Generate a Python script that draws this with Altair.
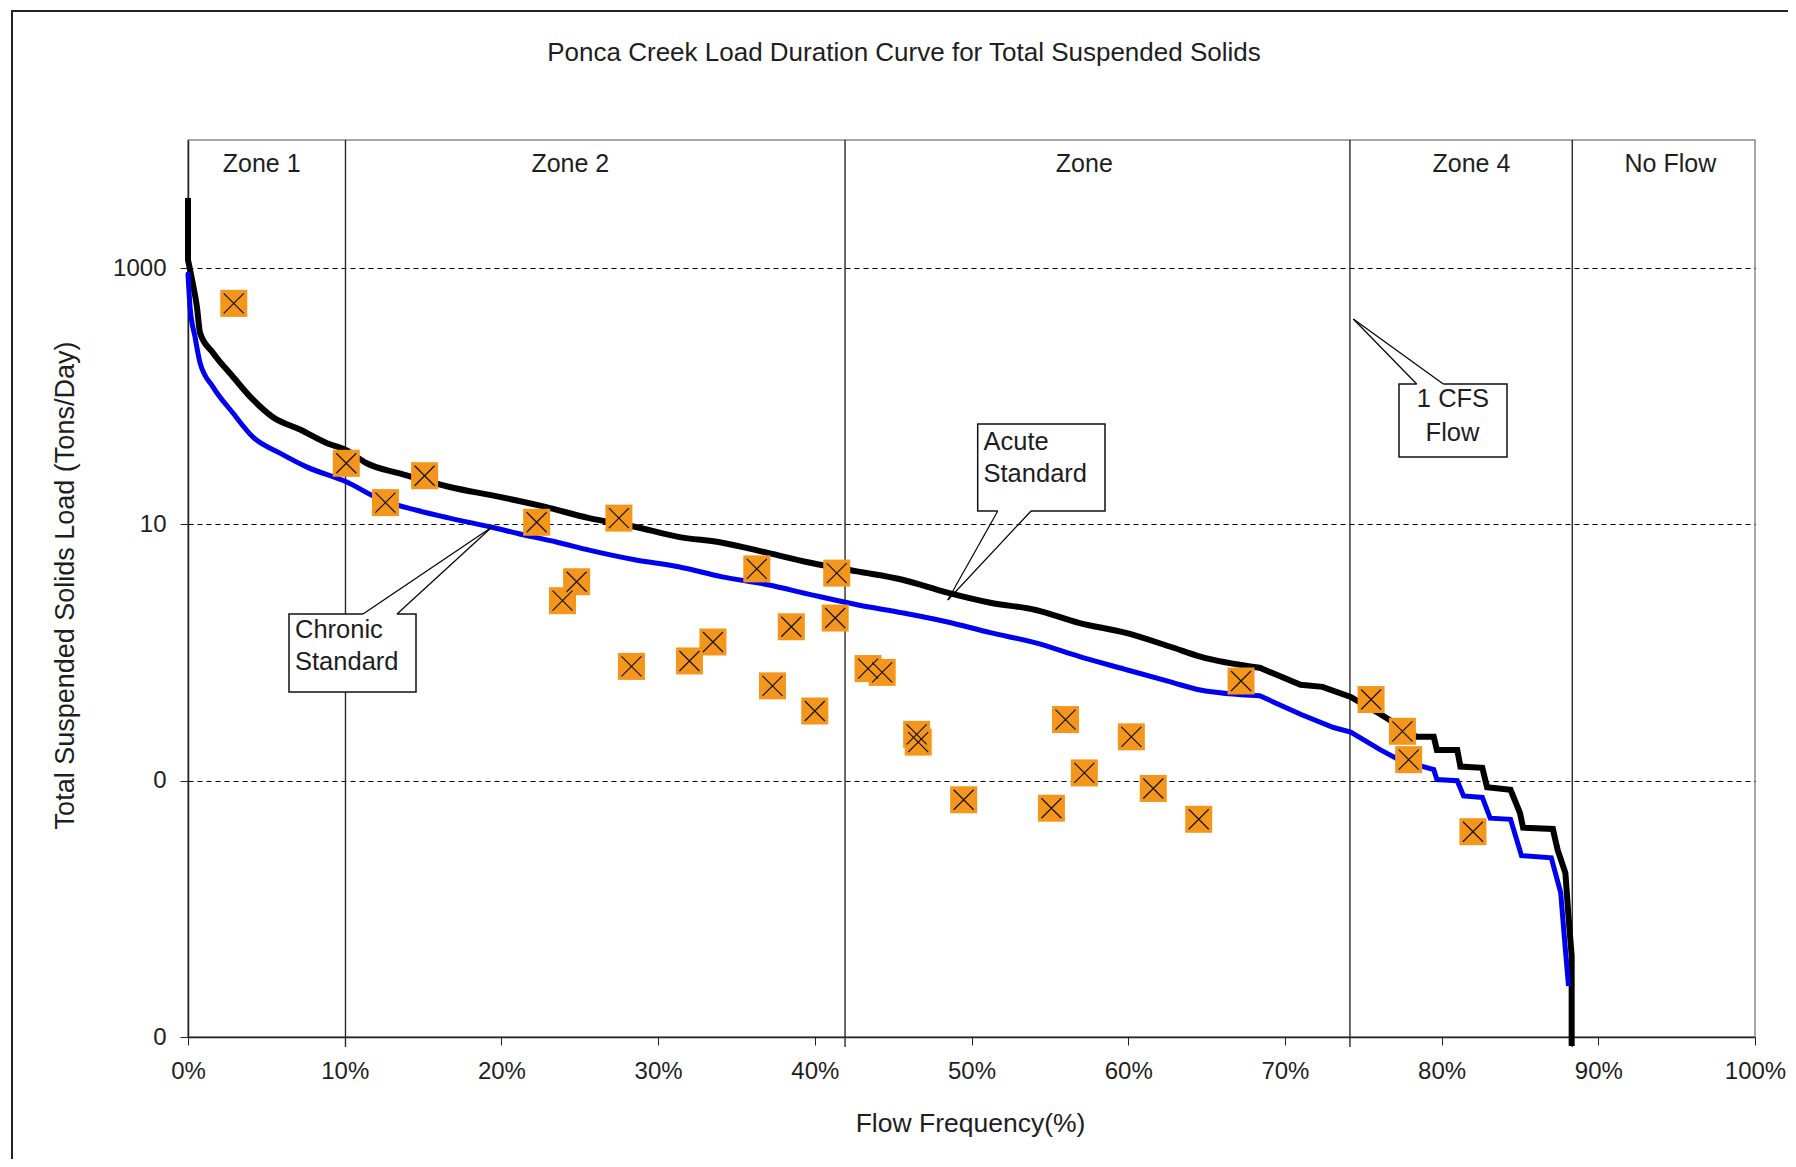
import altair as alt
import pandas as pd

# ---------------- data ----------------
acute_pct = [0, 0, 0.26, 0.57, 0.77, 1.6, 2.87, 4.15, 5.4, 7.15, 8.87, 10.1, 11.4, 13.5, 16.7,
             19.9, 22.8, 25.6, 28.5, 31.3, 34.1, 37.0, 39.8, 42.7, 45.6, 48.4, 51.2, 54.1, 56.9,
             59.8, 62.7, 64.6, 68.4, 71.0, 72.4, 74.2, 76.1, 78.4, 79.5, 79.7, 81.0, 81.2, 82.6,
             82.9, 84.4, 85.0, 85.2, 87.1, 87.4, 87.9, 88.1, 88.3, 88.3]
acute_val = [3530, 1160, 809, 498, 312, 218, 142, 94, 69, 55, 43, 38, 30, 25, 19.6,
             16.4, 13.7, 11.2, 9.6, 8.0, 7.2, 6.0, 5.0, 4.3, 3.7, 2.95, 2.45, 2.15, 1.70,
             1.43, 1.11, 0.93, 0.76, 0.56, 0.54, 0.45, 0.33, 0.22, 0.22, 0.174, 0.174, 0.129, 0.126,
             0.089, 0.085, 0.056, 0.043, 0.042, 0.029, 0.019, 0.0087, 0.0043, 0.00085]

chronic_pct = [0, 0.13, 0.45, 0.77, 1.6, 2.87, 4.15, 5.87, 7.6, 10.1, 12.4, 14.6, 16.7, 19.4,
               21.4, 23.5, 25.6, 28.5, 31.3, 34.1, 37.0, 39.8, 42.7, 45.6, 48.4, 51.2, 54.1,
               56.9, 59.8, 62.7, 64.6, 68.4, 71.0, 73.1, 74.2, 76.1, 77.3, 79.5, 79.7, 81.0,
               81.4, 82.6, 83.1, 84.4, 85.1, 87.0, 87.6, 87.9, 88.1]
chronic_val = [900, 498, 290, 182, 118, 74, 48, 36, 28, 21.5, 15.4, 12.9, 11.2, 9.5,
               8.3, 7.3, 6.3, 5.3, 4.67, 3.9, 3.38, 2.82, 2.36, 2.04, 1.74, 1.43, 1.19,
               0.93, 0.74, 0.59, 0.51, 0.46, 0.33, 0.26, 0.24, 0.174, 0.145, 0.122, 0.102, 0.1,
               0.076, 0.074, 0.051, 0.050, 0.026, 0.025, 0.0134, 0.0048, 0.0025]

obs_pct = [2.92, 10.1, 12.6, 15.1, 22.25, 27.5, 24.8, 23.9, 28.3, 32.0, 33.5, 36.3, 37.3,
           38.5, 40.0, 41.4, 41.3, 43.4, 44.3, 46.5, 46.6, 49.5, 55.1, 56.0, 57.2, 60.2,
           61.6, 64.5, 67.2, 75.5, 77.5, 77.9, 82.0]
obs_val = [531, 30, 14.8, 24, 10.4, 11.2, 3.57, 2.54, 0.78, 0.86, 1.21, 4.5, 0.55,
           1.59, 0.35, 4.17, 1.86, 0.75, 0.70, 0.23, 0.20, 0.071, 0.061, 0.30, 0.115, 0.22,
           0.087, 0.050, 0.60, 0.43, 0.243, 0.146, 0.040]

zone_bounds = [10.05, 41.93, 74.15, 88.34]
zone_label_pct = [4.7, 24.4, 57.2, 81.9, 94.6]
zone_labels = ["Zone 1", "Zone 2", "Zone", "Zone 4", "No Flow"]

x_tick_values = [0, 10, 20, 30, 40, 50, 60, 70, 80, 90, 100]
y_tick_values = [0.001, 0.1, 10, 1000]
y_tick_labels = ["0", "0", "10", "1000"]

title_text = "Ponca Creek Load Duration Curve for Total Suspended Solids"
x_title = "Flow Frequency(%)"
y_title = "Total Suspended Solids Load (Tons/Day)"

# ---------------- layout ----------------
W, H = 1567, 897
FONT = "Liberation Sans"
TXT = "#1e1e1e"
SMOOTH_UNTIL = 68.4   # smooth (monotone) part of each curve, stepped part after it


def curve_frames(pcts, vals):
    rows = [{"pct": p, "load": v, "i": i} for i, (p, v) in enumerate(zip(pcts, vals))]
    start = [r for r in rows if r["pct"] == pcts[0]]
    head_rows = [r for r in rows if r["pct"] <= SMOOTH_UNTIL][len(start) - 1:]
    tail_rows = [r for r in rows if r["pct"] >= SMOOTH_UNTIL]
    lin = []
    if len(start) > 1:
        lin += [dict(r, seg="start") for r in start]
    lin += [dict(r, seg="tail") for r in tail_rows]
    return pd.DataFrame(head_rows), pd.DataFrame(lin)


acute_head, acute_lin = curve_frames(acute_pct, acute_val)
chronic_head, chronic_lin = curve_frames(chronic_pct, chronic_val)

obs_df = pd.DataFrame({"pct": obs_pct, "load": obs_val})
zone_df = pd.DataFrame({"pct": zone_bounds})
zlab_df = pd.DataFrame({"pct": zone_label_pct, "label": zone_labels})

x_scale = alt.Scale(domain=[0, 100], nice=False, zero=False)
y_scale = alt.Scale(type="log", domain=[0.001, 10000], nice=False)

label_expr = " : ".join(
    f"abs(datum.value - {v}) < {v * 0.01} ? '{l}'" for v, l in zip(y_tick_values, y_tick_labels)
) + " : ''"

x_axis = alt.Axis(values=x_tick_values, labelExpr="datum.value + '%'", grid=False,
                  title=x_title, titleX=782, titleY=86, titleBaseline="middle",
                  titleFontSize=26.5, titleFontWeight="normal", titleFont=FONT, titleColor=TXT,
                  labelFontSize=24, labelFont=FONT, labelColor=TXT, labelPadding=14,
                  tickSize=8, tickColor="#222", domainColor="#222", domainWidth=1.5,
                  labelFlush=False)
y_axis = alt.Axis(values=y_tick_values, labelExpr=label_expr, grid=True,
                  gridDash=[5, 4], gridColor="#000", gridWidth=1,
                  title=y_title, titleX=-123, titleY=445, titleAngle=-90,
                  titleAlign="center", titleBaseline="middle",
                  titleFontSize=27, titleFontWeight="normal", titleFont=FONT, titleColor=TXT,
                  labelFontSize=24, labelFont=FONT, labelColor=TXT, labelPadding=14,
                  tickSize=8, tickColor="#222", domainColor="#222", domainWidth=1.5,
                  labelFlush=False)

X = alt.X("pct:Q", scale=x_scale, axis=x_axis)
Y = alt.Y("load:Q", scale=y_scale, axis=y_axis)
Xs = alt.X("pct:Q", scale=x_scale)
Ys = alt.Y("load:Q", scale=y_scale)

BLACK, BLUE = "#000000", "#0000F0"
BW, CW = 6, 5

zones = alt.Chart(zone_df).mark_rule(color="#2a2a2a", strokeWidth=1.4).encode(
    x=X, y=alt.value(0), y2=alt.value(H + 10))

acute_h = alt.Chart(acute_head).mark_line(color=BLACK, strokeWidth=BW, interpolate="monotone",
                                          strokeCap="round").encode(x=Xs, y=Y, order="i:Q")
acute_l = alt.Chart(acute_lin).mark_line(color=BLACK, strokeWidth=BW, clip=False).encode(
    x=Xs, y=Ys, order="i:Q", detail="seg:N")
chronic_h = alt.Chart(chronic_head).mark_line(color=BLUE, strokeWidth=CW, interpolate="monotone",
                                              strokeCap="round").encode(x=Xs, y=Ys, order="i:Q")
chronic_l = alt.Chart(chronic_lin).mark_line(color=BLUE, strokeWidth=CW).encode(
    x=Xs, y=Ys, order="i:Q", detail="seg:N")

squares = alt.Chart(obs_df).mark_square(size=729, color="#F5961C", opacity=1).encode(x=Xs, y=Ys)
crosses = alt.Chart(obs_df).mark_point(shape="M-1,-1L1,1M1,-1L-1,1", size=400, filled=False,
                                      stroke="#111", strokeWidth=1.2, opacity=1).encode(x=Xs, y=Ys)

zlabels = alt.Chart(zlab_df).mark_text(fontSize=25, font=FONT, color=TXT, baseline="middle").encode(
    x=Xs, y=alt.value(24), text="label:N")

dummy = pd.DataFrame({"a": [0]})


def px_rule(x1, y1, x2, y2, color="#000", w=1.2):
    return alt.Chart(dummy).mark_rule(color=color, strokeWidth=w).encode(
        x=alt.value(x1), y=alt.value(y1), x2=alt.value(x2), y2=alt.value(y2))


def px_box(x1, y1, x2, y2):
    return alt.Chart(dummy).mark_rect(fill="white", stroke="#111", strokeWidth=1.5).encode(
        x=alt.value(x1), y=alt.value(y1), x2=alt.value(x2), y2=alt.value(y2))


def px_text(x, y, t, align="left", size=25.5):
    return alt.Chart(dummy).mark_text(align=align, baseline="middle", fontSize=size,
                                      font=FONT, color=TXT).encode(
        x=alt.value(x), y=alt.value(y), text=alt.value(t))


def callout(box, base1, base2, tip):
    x1, y1, x2, y2 = box
    return [
        px_box(x1, y1, x2, y2),
        px_rule(base1[0], base1[1], base2[0], base2[1], color="white", w=2.5),
        px_rule(base1[0], base1[1], tip[0], tip[1]),
        px_rule(base2[0], base2[1], tip[0], tip[1]),
    ]


annotations = []
annotations += callout((789.7, 284, 917, 371), (809.8, 371), (843, 371), (759.8, 460))
annotations += [px_text(795.5, 302, "Acute"), px_text(795.5, 334, "Standard")]
annotations += callout((101, 474, 228, 552), (175, 474), (209, 474), (304, 387))
annotations += [px_text(107, 490, "Chronic"), px_text(107, 522, "Standard")]
annotations += callout((1211, 244, 1319, 317), (1228.7, 244), (1255.3, 244), (1165.3, 179))
annotations += [px_text(1265, 259, "1 CFS", align="center"),
                px_text(1264.5, 293, "Flow", align="center")]

outer = alt.Chart(dummy).mark_rect(fillOpacity=0, stroke="#222", strokeWidth=2).encode(
    x=alt.value(-176), y=alt.value(-129), x2=alt.value(1640), y2=alt.value(1060))
title = px_text(716, -87, title_text, align="center", size=26)

chart = alt.layer(
    zones, acute_h, acute_l, chronic_h, chronic_l, squares, crosses, zlabels,
    *annotations, outer, title
).properties(
    width=W, height=H,
    autosize=alt.AutoSizeParams(type="none"),
    padding={"left": 180, "top": 132, "right": 33, "bottom": 122},
).configure_view(stroke="#8a8a8a", strokeWidth=1.5)

chart.save("out.html", embed_options={"renderer": "svg", "actions": False})
